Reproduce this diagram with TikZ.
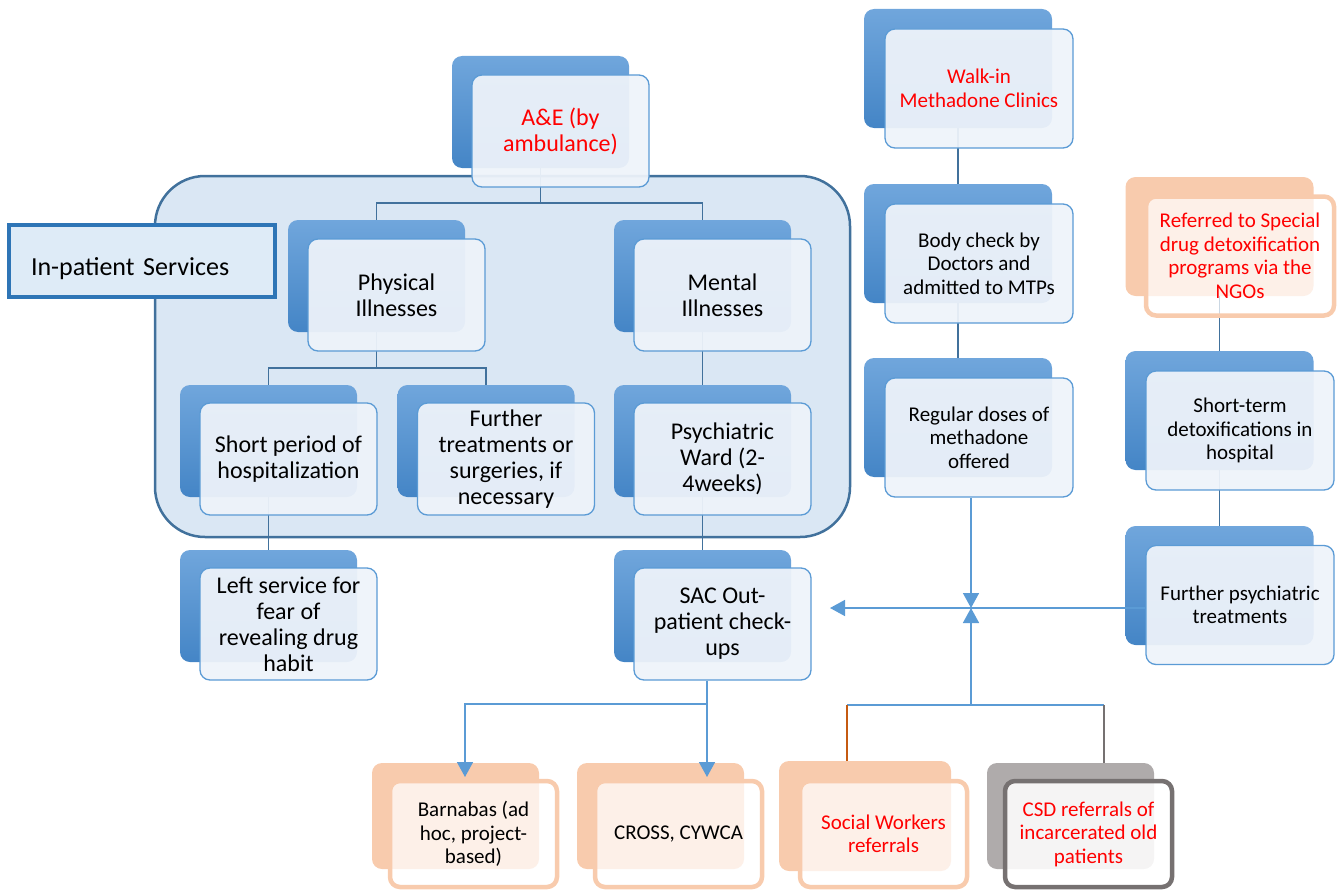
\documentclass[tikz,border=0pt]{standalone}
\usepackage{fontspec}
\setmainfont{Carlito}
\usepackage{xcolor}
\usetikzlibrary{positioning}
\usetikzlibrary{arrows.meta}

\definecolor{tabtop}{RGB}{112,166,220}
\definecolor{tabbot}{RGB}{68,133,198}
\definecolor{boxline}{RGB}{91,155,213}
\definecolor{boxfill}{RGB}{238,243,250}
\definecolor{peach}{RGB}{248,203,173}
\definecolor{greytab}{RGB}{175,171,171}
\definecolor{greyline}{RGB}{118,113,113}
\definecolor{linkc}{RGB}{65,113,156}
\definecolor{flowc}{RGB}{91,155,213}
\definecolor{regionfill}{RGB}{218,231,244}
\definecolor{labelline}{RGB}{46,117,182}
\definecolor{labelfill}{RGB}{222,235,247}
\definecolor{brownline}{RGB}{197,90,17}

\begin{document}
\begin{tikzpicture}[x=1pt, y=-1pt,
    bsize/.style={minimum width=177pt, minimum height=112pt},
    rsize/.style={minimum width=188pt, minimum height=119pt},
    lsize/.style={minimum width=167pt, minimum height=106pt},
    bluetab/.style={rounded corners=10pt, top color=tabtop, bottom color=tabbot},
    bluebox/.style={rounded corners=10pt, draw=boxline, line width=1.3pt, fill=boxfill, fill opacity=0.94, text opacity=1, align=center},
    peachtab/.style={rounded corners=10pt, fill=peach},
    peachbox/.style={rounded corners=10pt, draw=peach, line width=4.5pt, fill=white, fill opacity=0.72, draw opacity=1, text opacity=1, align=center},
    greyboxtab/.style={rounded corners=10pt, fill=greytab},
    greybox/.style={rounded corners=10pt, draw=greyline, line width=4.5pt, fill=white, fill opacity=0.88, draw opacity=1, text opacity=1, align=center},
    big/.style={font=\fontsize{24}{26}\selectfont},
    small/.style={font=\fontsize{21}{23.5}\selectfont},
    link/.style={draw=linkc, line width=1.5pt},
    flow/.style={draw=flowc, line width=1.6pt, -{Triangle[width=16pt,length=15pt]}}]
    \useasboundingbox (0,0) rectangle (1339,891);

    % In-patient block
    \node[draw=linkc, line width=2.5pt, fill=regionfill, rounded corners=50pt, minimum width=695pt, minimum height=361pt] (ipreg) at (502.5,356.5) {};
    \node[draw=labelline, line width=4.5pt, fill=labelfill, minimum height=72pt, text width=222pt, inner xsep=22pt, text height=28pt, text depth=0pt, align=left, font=\fontsize{26}{30}\selectfont] (iplab) at (142,261) {In-patient Services};

    % Back tabs
    \node[bluetab, bsize] (ae-b) at (540.5,112) {};
    \node[bluetab, bsize] (phys-b) at (376.5,276) {};
    \node[bluetab, bsize] (ment-b) at (702.5,276) {};
    \node[bluetab, bsize] (short-b) at (268.5,441) {};
    \node[bluetab, bsize] (furt-b) at (486,441) {};
    \node[bluetab, bsize] (psy-b) at (702.5,441) {};
    \node[bluetab, bsize] (left-b) at (268.5,606) {};
    \node[bluetab, bsize] (sac-b) at (702.5,606) {};
    \node[bluetab, rsize] (walk-b) at (958,68.5) {};
    \node[bluetab, rsize] (body-b) at (958,243.5) {};
    \node[bluetab, rsize] (reg-b) at (958,417.5) {};
    \node[peachtab, rsize] (ref-b) at (1219.5,236.5) {};
    \node[bluetab, rsize] (stdx-b) at (1219.5,410.5) {};
    \node[bluetab, rsize] (fpsy-b) at (1219.5,585.5) {};
    \node[peachtab, lsize] (barn-b) at (455.5,816) {};
    \node[peachtab, lsize] (cross-b) at (660.5,816) {};
    \node[peachtab, lsize, minimum width=172pt, minimum height=110pt] (soc-b) at (865,816) {};
    \node[greyboxtab, lsize] (csd-b) at (1070.5,816) {};

    % Tree links
    \draw[link] (ae-b.south) -- ++(0,35) coordinate (aej) -| (phys-b.north);
    \draw[link] (aej) -| (ment-b.north);
    \draw[link] (phys-b.south) -- ++(0,36) coordinate (physj) -| (short-b.north);
    \draw[link] (physj) -| (furt-b.north);
    \draw[link] (ment-b.south) -- (psy-b.north);
    \draw[link] (short-b.south) -- (left-b.north);
    \draw[link] (psy-b.south) -- (sac-b.north);
    \draw[link] (walk-b.south) -- (body-b.north);
    \draw[link] (body-b.south) -- (reg-b.north);
    \draw[link] (ref-b.south) -- (stdx-b.north);
    \draw[link] (stdx-b.south) -- (fpsy-b.north);

    % Front boxes
    \node[bluebox, bsize, big, text=red] (ae) at (560.5,131) {A\&E (by\\ambulance)};
    \node[bluebox, bsize, big] (phys) at (396.5,295) {Physical\\Illnesses};
    \node[bluebox, bsize, big] (ment) at (722.5,295) {Mental\\Illnesses};
    \node[bluebox, bsize, big] (short) at (288.5,459) {Short period of\\hospitalization};
    \node[bluebox, bsize, big] (furt) at (506,459) {Further\\treatments or\\surgeries, if\\necessary};
    \node[bluebox, bsize, big] (psy) at (722.5,459) {Psychiatric\\Ward (2-\\4weeks)};
    \node[bluebox, bsize, big] (left) at (288.5,624) {Left service for\\fear of\\revealing drug\\habit};
    \node[bluebox, bsize, big] (sac) at (722.5,624) {SAC Out-\\patient check-\\ups};

    \node[bluebox, rsize, small, text=red] (walk) at (979,88.5) {Walk-in\\Methadone Clinics};
    \node[bluebox, rsize, small] (body) at (979,263.5) {Body check by\\Doctors and\\admitted to MTPs};
    \node[bluebox, rsize, small] (reg) at (979,437.5) {Regular doses of\\methadone\\offered};
    \node[peachbox, rsize, small, text=red] (ref) at (1240,256) {Referred to Special\\drug detoxification\\programs via the\\NGOs};
    \node[bluebox, rsize, small] (stdx) at (1240,430.5) {Short-term\\detoxifications in\\hospital};
    \node[bluebox, rsize, small] (fpsy) at (1240,605) {Further psychiatric\\treatments};

    \node[peachbox, lsize, small] (barn) at (473.5,834) {Barnabas (ad\\hoc, project-\\based)};
    \node[peachbox, lsize, small] (cross) at (678.5,834) {CROSS, CYWCA};
    \node[peachbox, lsize, small, text=red] (soc) at (883.5,834) {Social Workers\\referrals};
    \node[greybox, lsize, small, text=red] (csd) at (1088.5,834) {CSD referrals of\\incarcerated old\\patients};

    % Flow arrows
    \coordinate (hub) at (971,608);
    \coordinate (hubb) at (971,705);
    \coordinate (sacin) at (830,608);
    \coordinate (sacj) at (707,704);
    \coordinate (barnin) at (465,777);
    \coordinate (crossin) at (707,777);
    \coordinate (socj) at (847,705);
    \coordinate (csdj) at (1104,705);

    \draw[flow] (reg.south -| hub) -- (hub);
    \draw[flow] (hubb) -- (hub);
    \draw[flow] (fpsy.west |- hub) -- (sacin);
    \draw[flowc, line width=1.6pt] (sac.south -| sacj) -- (sacj);
    \draw[flow] (sacj) -| (barnin);
    \draw[flow] (sacj) -- (crossin);
    \draw[flowc, line width=1.6pt] (socj) -- (csdj);
    \draw[brownline, line width=1.3pt] (socj) -- (socj |- soc-b.north);
    \draw[greyline, line width=1.3pt] (csdj) -- (csdj |- csd-b.north);
\end{tikzpicture}
\end{document}
